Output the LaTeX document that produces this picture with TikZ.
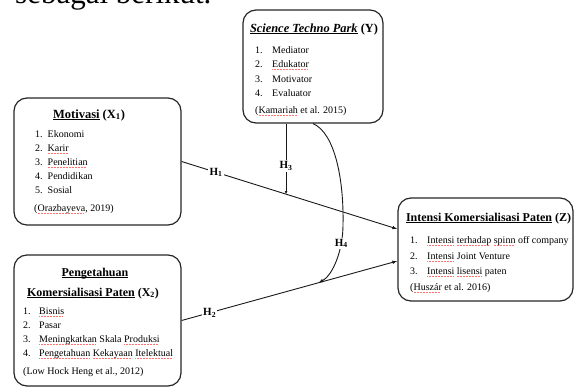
\documentclass[tikz,border=0pt]{standalone}
\usepackage{fontspec}
\setmainfont{Liberation Serif}
\usetikzlibrary{arrows.meta}
\newlength\myulw
\newcommand\uln[1]{\settowidth\myulw{#1}\rlap{\rule[-1.8pt]{\myulw}{0.65pt}}#1}
\newcommand\sq[1]{\settowidth\myulw{#1}\rlap{\textcolor{red!55}{\leaders\hbox{\rule[-2.4pt]{1pt}{0.55pt}\kern0.5pt}\hskip\myulw}}#1}
\tikzset{
 box/.style={draw=black!85, line width=1.2pt, rounded corners=13pt, inner sep=0pt},
 ttl/.style={anchor=base, inner sep=0pt, font=\fontsize{12}{14}\selectfont\bfseries},
 txt/.style={anchor=base west, inner sep=0pt, font=\fontsize{10}{12}\selectfont},
 conn/.style={line width=0.9pt, draw=black!90, -{Latex[length=5pt,width=3.6pt]}},
 hl/.style={fill=white, inner sep=1.2pt, font=\fontsize{11}{12}\selectfont\bfseries},
}
\begin{document}
\begin{tikzpicture}[x=1pt,y=-1pt]
\useasboundingbox (0,0) rectangle (574,388);
\begin{scope}
\clip (0,0) rectangle (574,388);
\node[anchor=base west, inner sep=0pt, font=\fontsize{31}{31}\selectfont] (intro) at (15,4) {sebagai berikut.};
\end{scope}

% boxes
\node[box, minimum width=140pt, minimum height=113pt] (sci) at (313,66.5) {};
\node[box, minimum width=167pt, minimum height=127pt] (mot) at (97.5,161.5) {};
\node[box, minimum width=167pt, minimum height=131pt] (pen) at (97.5,320.5) {};
\node[box, minimum width=175pt, minimum height=103pt] (int) at (485.5,249.5) {};

% Science Techno Park
\node[ttl, font=\fontsize{12.4}{14}\selectfont\bfseries] (scit) at (314,32) {\textit{\uln{Science Techno Park}} (Y)};
\node[txt] (s1n) at (255,53.5) {1.}; \node[txt] (s1) at (272,53.5) {Mediator};
\node[txt] (s2n) at (255,67.5) {2.}; \node[txt] (s2) at (272,67.5) {\sq{Edukator}};
\node[txt] (s3n) at (255,82.5) {3.}; \node[txt] (s3) at (272,82.5) {Motivator};
\node[txt] (s4n) at (255,96.5) {4.}; \node[txt] (s4) at (272,96.5) {Evaluator};
\node[txt] (sc) at (255,113.5) {(\sq{Kamariah} et al. 2015)};

% Motivasi
\node[ttl, font=\fontsize{12.5}{14}\selectfont\bfseries] (mott) at (89,118) {\uln{Motivasi} (X\textsubscript{1})};
\node[txt] (m1t) at (35,137.5) {1.\ \ Ekonomi};
\node[txt] (m2t) at (35,151.5) {2.\ \ \sq{Karir}};
\node[txt] (m3t) at (35,165.5) {3.\ \ \sq{Penelitian}};
\node[txt] (m4t) at (35,179.5) {4.\ \ Pendidikan};
\node[txt] (m5t) at (35,193.5) {5.\ \ Sosial};
\node[txt] (mc) at (34,211.5) {(\sq{Orazbayeva}, 2019)};

% Pengetahuan
\node[ttl] (pent1) at (95,276) {\uln{Pengetahuan}};
\node[ttl] (pent2) at (93,296) {\uln{Komersialisasi Paten} (X\textsubscript{2})};
\node[txt] (p1n) at (23,314.5) {1.}; \node[txt] (p1) at (39,314.5) {\sq{Bisnis}};
\node[txt] (p2n) at (23,328.5) {2.}; \node[txt] (p2) at (39,328.5) {Pasar};
\node[txt] (p3n) at (23,342.5) {3.}; \node[txt] (p3) at (39,342.5) {\sq{Meningkatkan} Skala \sq{Produksi}};
\node[txt] (p4n) at (23,356.5) {4.}; \node[txt] (p4) at (39,356.5) {\sq{Pengetahuan} \sq{Kekayaan} \sq{Itelektual}};
\node[txt] (pc) at (23,374.5) {(Low Hock Heng et al., 2012)};

% Intensi
\node[ttl] (intt) at (488.5,221) {\uln{Intensi Komersialisasi Paten} (Z)};
\node[txt] (i1n) at (410,243.5) {1.}; \node[txt] (i1) at (427,243.5) {\sq{Intensi} \sq{terhadap} \sq{spinn} off company};
\node[txt] (i2n) at (410,259.5) {2.}; \node[txt] (i2) at (427,259.5) {\sq{Intensi} Joint Venture};
\node[txt] (i3n) at (410,274.5) {3.}; \node[txt] (i3) at (427,274.5) {\sq{Intensi} \sq{lisensi} paten};
\node[txt] (ic) at (410,290.5) {(\sq{Huszár} et al. 2016)};

% connectors
\draw[conn] (mot.east) -- node[hl,pos=0.16] (l1) {H\textsubscript{1}} coordinate[pos=0.484] (m1) ([yshift=20.5pt]int.west);
\draw[conn] (pen.east) -- node[hl,pos=0.13] (l2) {H\textsubscript{2}} coordinate[pos=0.634] (m2) ([yshift=-11.5pt]int.west);
\draw[conn, -{Latex[length=3pt,width=2.8pt]}] (sci.south -| m1) -- node[hl,pos=0.6] (l3) {H\textsubscript{3}} (m1);
\coordinate (h4mid) at (343,225);
\draw[conn] (sci.south) .. controls (335,133) and (344,180) .. (h4mid)
  .. controls (343,250) and (333,275) .. node[hl,pos=0.25] (l4) {H\textsubscript{4}} (m2);
\end{tikzpicture}
\end{document}
